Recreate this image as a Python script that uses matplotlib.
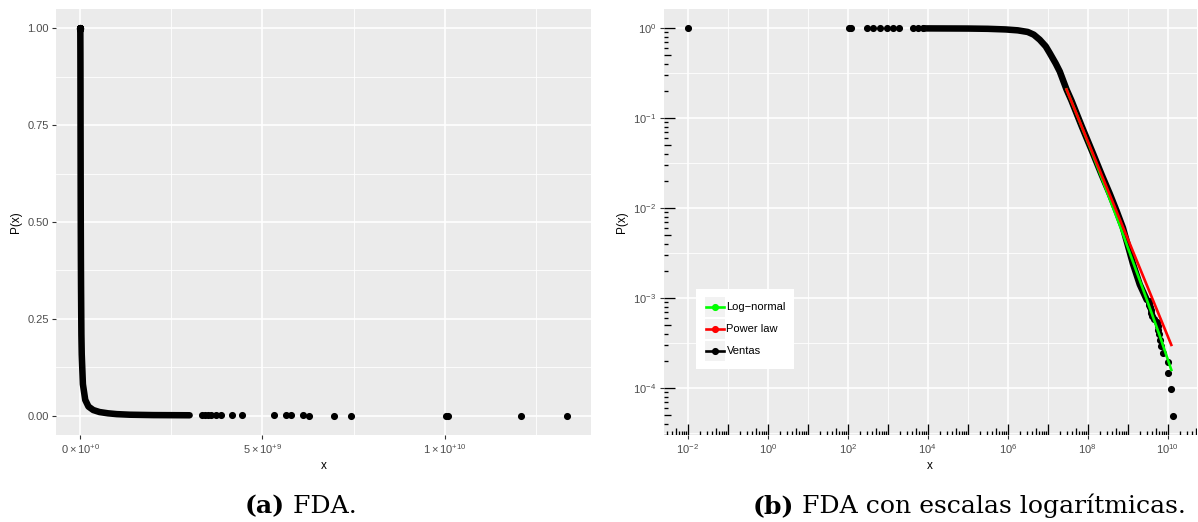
import matplotlib
matplotlib.use('Agg')
import matplotlib.pyplot as plt
from matplotlib.transforms import blended_transform_factory
from matplotlib.patches import Rectangle
from matplotlib.lines import Line2D
from matplotlib.ticker import FixedLocator, NullFormatter, FixedFormatter
import numpy as np

# ---------------- data ----------------
# sparse low-value observations (P close to 1)
low_x = [0.01, 105, 118, 295, 427, 631, 933, 1349, 1905, 4266, 5754, 7586]
low_P = [1.0, 0.99995, 0.9999, 0.99985, 0.9998, 0.99975, 0.9997, 0.99965,
         0.9996, 0.99955, 0.9995, 0.99945]
# dense part of the empirical CCDF ("Ventas")
band_x = [7943, 1.0e5, 3.16e5, 8.9e5, 1.78e6, 3.16e6, 4.47e6, 6.3e6, 8.9e6,
          1.12e7, 1.58e7, 2.0e7, 2.95e7, 3.9e7, 7.08e7, 1.35e8, 2.24e8,
          3.55e8, 5.25e8, 7.59e8, 1.0e9, 1.35e9, 2.0e9, 3.0e9]
band_P = [0.9994, 0.9954, 0.9886, 0.9727, 0.9506, 0.912, 0.851, 0.748, 0.631,
          0.532, 0.407, 0.331, 0.209, 0.158, 0.0813, 0.0407, 0.0234,
          0.01445, 0.00933, 0.00603, 0.00389, 0.0024, 0.00141, 0.00095]
# sparse upper-tail observations
tail_x = [1.335e10, 1.209e10, 1.010e10, 1.005e10, 7.42e9, 6.96e9, 6.27e9,
          6.12e9, 5.79e9, 5.64e9, 5.32e9, 4.43e9, 4.15e9, 3.86e9, 3.72e9,
          3.60e9, 3.50e9, 3.42e9, 3.33e9]
tail_P = [4.9e-5, 9.8e-5, 1.47e-4, 1.96e-4, 2.45e-4, 2.94e-4, 3.43e-4,
          3.92e-4, 4.41e-4, 4.90e-4, 5.39e-4, 5.88e-4, 6.37e-4, 6.86e-4,
          7.35e-4, 7.84e-4, 8.33e-4, 8.82e-4, 9.31e-4]
# fitted models
lognormal_x = [2.95e7, 6.31e7, 1.35e8, 3.16e8, 6.31e8, 1.26e9, 2.95e9, 6.31e9, 1.23e10]
lognormal_P = [0.209, 0.0912, 0.0389, 0.01445, 0.00646, 0.00275, 0.000977, 0.00038, 0.000158]
powerlaw_x = [2.95e7, 1.23e10]
powerlaw_P = [0.209, 3.0e-4]

legend_labels = ['Log\u2212normal', 'Power law', 'Ventas']
legend_colors = ['#00FF00', '#FF0000', '#000000']
x_lin_ticks = [0, 5e9, 1e10]
x_lin_labels = [r'$0\times10^{+0}$', r'$5\times10^{+9}$', r'$1\times10^{+10}$']
y_lin_ticks = [0, 0.25, 0.5, 0.75, 1.0]
y_lin_labels = ['0.00', '0.25', '0.50', '0.75', '1.00']
x_log_exps = [-2, 0, 2, 4, 6, 8, 10]
y_log_exps = [0, -1, -2, -3, -4]

# ---------------- style ----------------
plt.rcParams['font.family'] = ['Liberation Sans', 'DejaVu Sans']
plt.rcParams['mathtext.fontset'] = 'custom'
plt.rcParams['mathtext.rm'] = 'Liberation Sans'
plt.rcParams['mathtext.it'] = 'Liberation Sans:italic'
plt.rcParams['mathtext.bf'] = 'Liberation Sans:bold'

W, H, DPI = 1198, 522, 100
fig = plt.figure(figsize=(W / DPI, H / DPI), dpi=DPI)

PANEL = '#EBEBEB'
TICKLAB = '#4D4D4D'
TICKCOL = '#333333'
TSIZE = 8
LSIZE = 8.5
MS = 4.1
BAND_LW = 4.7


def px_rect(l, t, r, b):
    return [l / W, 1 - b / H, (r - l) / W, (b - t) / H]


def style(ax):
    ax.set_facecolor(PANEL)
    for s in ax.spines.values():
        s.set_visible(False)
    ax.set_axisbelow(True)
    ax.grid(True, which='major', color='white', lw=1.2)
    ax.grid(True, which='minor', color='white', lw=0.6)
    ax.tick_params(which='major', direction='out', length=2.7, width=0.8,
                   color=TICKCOL, labelsize=TSIZE, labelcolor=TICKLAB, pad=2.5)
    ax.tick_params(which='minor', length=0)


# ---------------- left panel (linear) ----------------
ax1 = fig.add_axes(px_rect(56, 9, 591, 435))
style(ax1)
ax1.plot(band_x, band_P, color='black', lw=BAND_LW, solid_capstyle='round',
         solid_joinstyle='round', zorder=3)
ax1.plot(low_x, low_P, 'o', color='black', ms=MS, mec='black', zorder=3)
ax1.plot(tail_x, tail_P, 'o', color='black', ms=MS, mec='black', zorder=3)
xmax = max(tail_x)
ax1.set_xlim(-0.05 * xmax, 1.05 * xmax)
ax1.set_ylim(-0.05, 1.05)
ax1.xaxis.set_major_locator(FixedLocator(x_lin_ticks))
ax1.xaxis.set_major_formatter(FixedFormatter(x_lin_labels))
ax1.xaxis.set_minor_locator(FixedLocator([2.5e9, 7.5e9, 1.25e10]))
ax1.yaxis.set_major_locator(FixedLocator(y_lin_ticks))
ax1.yaxis.set_major_formatter(FixedFormatter(y_lin_labels))
ax1.yaxis.set_minor_locator(FixedLocator([0.125, 0.375, 0.625, 0.875]))
ax1.set_xlabel('x', fontsize=LSIZE, labelpad=3)
ax1.set_ylabel('P(x)', fontsize=LSIZE, labelpad=4)

# ---------------- right panel (log-log) ----------------
ax2 = fig.add_axes(px_rect(663.5, 9, 1197, 435))
style(ax2)
ax2.set_xscale('log')
ax2.set_yscale('log')
ax2.plot(band_x, band_P, color='black', lw=BAND_LW, solid_capstyle='round',
         solid_joinstyle='round', zorder=3)
ax2.plot(low_x, low_P, 'o', color='black', ms=MS, mec='black', zorder=3)
ax2.plot(tail_x, tail_P, 'o', color='black', ms=MS, mec='black', zorder=3)
ax2.plot(lognormal_x, lognormal_P, color=legend_colors[0], lw=1.9, zorder=4)
ax2.plot(powerlaw_x, powerlaw_P, color=legend_colors[1], lw=1.9, zorder=5)

all_x = low_x + band_x + tail_x
all_P = low_P + band_P + tail_P
lx0, lx1 = np.log10(min(all_x)), np.log10(max(all_x))
ly0, ly1 = np.log10(min(all_P)), np.log10(max(all_P))
ex, ey = 0.05 * (lx1 - lx0), 0.05 * (ly1 - ly0)
ax2.set_xlim(10 ** (lx0 - ex), 10 ** (lx1 + ex))
ax2.set_ylim(10 ** (ly0 - ey), 10 ** (ly1 + ey))

ax2.xaxis.set_major_locator(FixedLocator([10.0 ** k for k in x_log_exps]))
ax2.xaxis.set_major_formatter(FixedFormatter([r'$10^{%d}$' % k for k in x_log_exps]))
ax2.xaxis.set_minor_locator(FixedLocator([10.0 ** k for k in range(-3, 12, 2)]))
ax2.xaxis.set_minor_formatter(NullFormatter())
ax2.yaxis.set_major_locator(FixedLocator([10.0 ** k for k in y_log_exps]))
ax2.yaxis.set_major_formatter(FixedFormatter([r'$10^{%d}$' % k for k in y_log_exps]))
ax2.yaxis.set_minor_locator(FixedLocator([10.0 ** (k + 0.5) for k in range(-6, 1)]))
ax2.yaxis.set_minor_formatter(NullFormatter())
ax2.set_xlabel('x', fontsize=LSIZE, labelpad=3)
ax2.set_ylabel('P(x)', fontsize=LSIZE, labelpad=4)

# annotation log ticks (long at 10^k, mid at 5x10^k, short otherwise)
ax_w_px = 1197 - 663.5
ax_h_px = 435 - 9
L_LONG, L_MID, L_SHORT = 11.0, 7.5, 4.5


def tick_len(m):
    return L_LONG if m == 1 else (L_MID if m == 5 else L_SHORT)


xlo, xhi = ax2.get_xlim()
xs, xl = [], []
for k in range(-4, 12):
    for m in range(1, 10):
        v = m * 10.0 ** k
        if xlo <= v <= xhi:
            xs.append(v)
            xl.append(tick_len(m) / ax_h_px)
ax2.vlines(xs, 0, xl, colors='black', lw=0.95, zorder=6,
           transform=blended_transform_factory(ax2.transData, ax2.transAxes))
ylo, yhi = ax2.get_ylim()
ys, yl = [], []
for k in range(-6, 2):
    for m in range(1, 10):
        v = m * 10.0 ** k
        if ylo <= v <= yhi:
            ys.append(v)
            yl.append(tick_len(m) / ax_w_px)
ax2.hlines(ys, 0, yl, colors='black', lw=0.95, zorder=6,
           transform=blended_transform_factory(ax2.transAxes, ax2.transData))

# ---------------- legend (drawn in pixel layout) ----------------
def fx(x):
    return x / W


def fy(y):
    return 1 - y / H


fig.add_artist(Rectangle((fx(696), fy(369)), (794 - 696) / W, (369 - 289) / H,
                         transform=fig.transFigure, facecolor='white',
                         edgecolor='none', zorder=10))
for i, (lab, col) in enumerate(zip(legend_labels, legend_colors)):
    cy = 307 + 22 * i
    fig.add_artist(Rectangle((fx(705), fy(cy + 10)), 20 / W, 20 / H,
                             transform=fig.transFigure, facecolor='#F2F2F2',
                             edgecolor='none', zorder=11))
    fig.add_artist(Line2D([fx(706), fx(724)], [fy(cy), fy(cy)],
                          transform=fig.transFigure, color=col, lw=1.9, zorder=12))
    fig.add_artist(Line2D([fx(715)], [fy(cy)], transform=fig.transFigure,
                          marker='o', ms=MS, color=col, zorder=13))
    fig.text(fx(726.5), fy(cy), lab, fontsize=TSIZE, va='center', ha='left',
             color='black', zorder=14)

# ---------------- captions ----------------
renderer = fig.canvas.get_renderer()


def caption(cx, base_y, bold, rest, size):
    t1 = fig.text(0, fy(base_y), bold, fontsize=size, fontweight='bold',
                  family='DejaVu Serif', va='baseline', ha='left')
    t2 = fig.text(0, fy(base_y), rest, fontsize=size, family='DejaVu Serif',
                  va='baseline', ha='left')
    w1 = t1.get_window_extent(renderer).width
    w2 = t2.get_window_extent(renderer).width
    x0 = cx - (w1 + w2) / 2
    t1.set_x(fx(x0))
    t2.set_x(fx(x0 + w1))
    return w1 + w2


# fit caption size so that the long caption spans ~430 px
probe = fig.text(0, 0, '(b) FDA con escalas logarítmicas.', fontsize=14,
                 family='DejaVu Serif')
pw = probe.get_window_extent(renderer).width
probe.remove()
csize = 14 * 430 / pw
caption(301, 513, '(a)', ' FDA.', csize)
caption(969, 513, '(b)', ' FDA con escalas logarítmicas.', csize)

fig.savefig('out.png', dpi=DPI)
